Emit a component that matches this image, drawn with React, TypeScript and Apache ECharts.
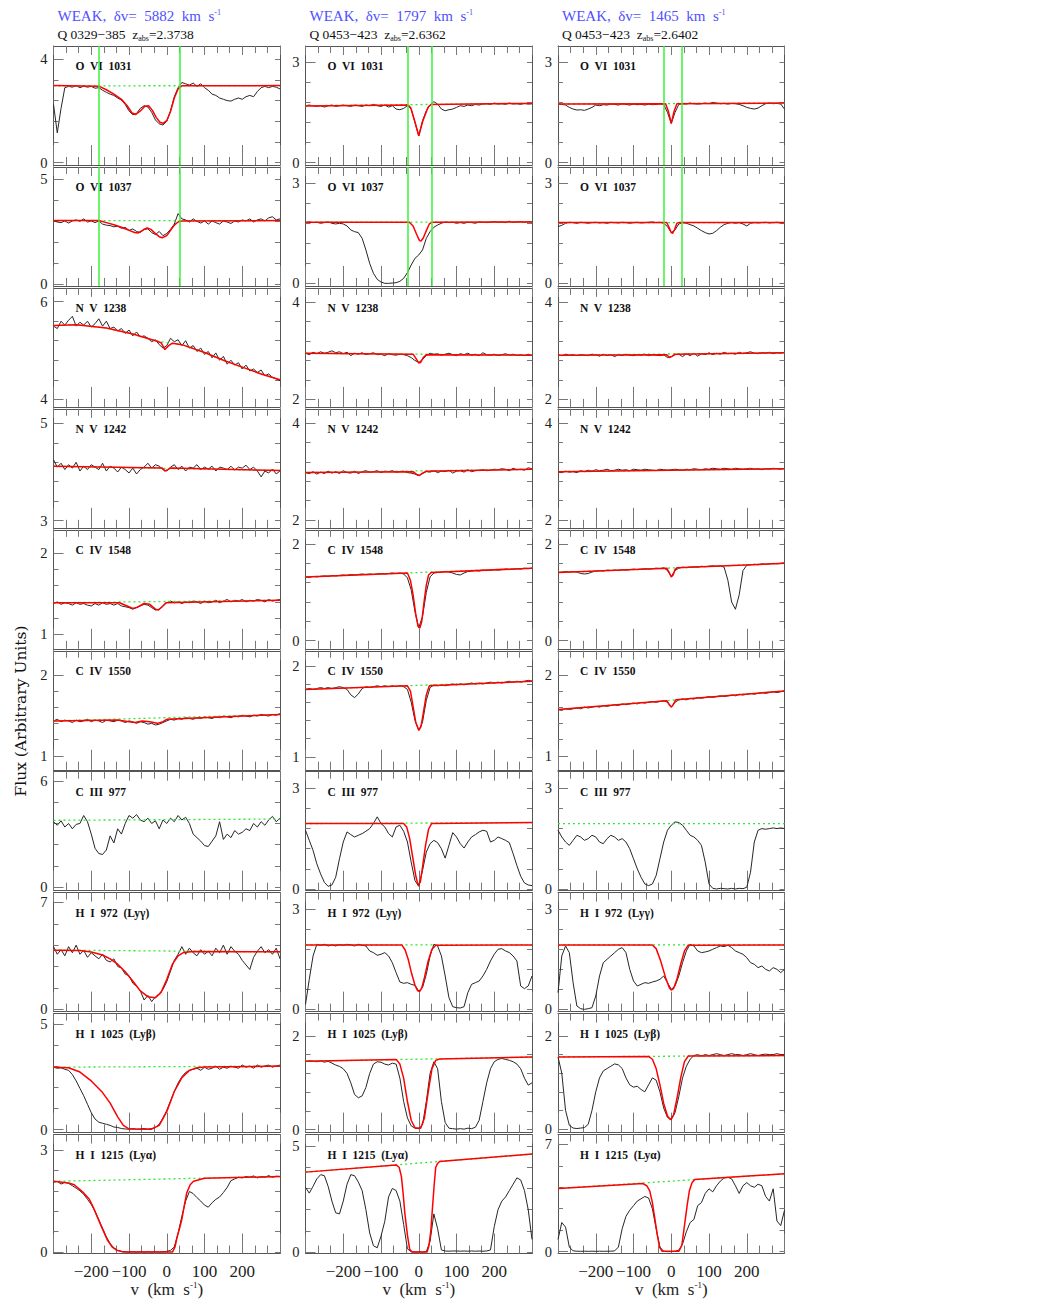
import React, { useEffect, useRef } from 'react';
import * as echarts from 'echarts';

// velocity grid (km/s) of the sampled spectra
const VEL = [-300,-290,-280,-270,-260,-250,-240,-230,-220,-210,-200,-190,-180,-170,-160,-150,-140,-130,-120,-110,-100,-90,-80,-70,-60,-50,-40,-30,-20,-10,0,10,20,30,40,50,60,70,80,90,100,110,120,130,140,150,160,170,180,190,200,210,220,230,240,250,260,270,280,290,300];

const ROW_NAMES = ['O  VI  1031','O  VI  1037','N  V  1238','N  V  1242','C  IV  1548','C  IV  1550','C  III  977','H  I  972  (Ly\u03b3)','H  I  1025  (Ly\u03b2)','H  I  1215  (Ly\u03b1)'];
const DV = ['5882','1797','1465'];
const QSO = ['Q 0329\u2212385','Q 0453\u2212423','Q 0453\u2212423'];
const ZABS = ['2.3738','2.6362','2.6402'];
const X_TICK_LABELS = [-200,-100,0,100,200];

// ---------- observed flux (black histogram) ----------
const flux_r1c1 = [2.25,1.15,2.1,2.9,2.95,2.92,2.98,2.9,2.96,2.92,
 2.95,2.88,2.9,2.8,2.72,2.65,2.6,2.5,2.42,2.25,
 2.0,1.85,1.9,2.1,2.2,2.15,1.95,1.65,1.5,1.45,
 1.6,2.0,2.55,2.9,3.1,3.05,3.0,3.08,2.95,3.05,
 2.9,2.8,2.65,2.6,2.5,2.45,2.4,2.38,2.45,2.5,
 2.45,2.55,2.6,2.55,2.75,2.9,2.95,2.9,2.95,2.92,
 2.85];
const flux_r1c2 = [1.7,1.72,1.7,1.68,1.7,1.66,1.7,1.72,1.68,1.7,
 1.72,1.7,1.68,1.72,1.7,1.68,1.72,1.7,1.74,1.7,
 1.68,1.72,1.66,1.7,1.6,1.58,1.62,1.7,1.6,1.2,
 0.8,1.25,1.55,1.72,1.82,1.75,1.6,1.55,1.58,1.6,
 1.65,1.7,1.68,1.72,1.7,1.74,1.72,1.75,1.76,1.74,
 1.78,1.75,1.76,1.74,1.78,1.75,1.76,1.74,1.77,1.75,
 1.76];
const flux_r1c3 = [1.75,1.74,1.72,1.65,1.6,1.57,1.58,1.56,1.6,1.65,
 1.72,1.7,1.73,1.72,1.75,1.74,1.72,1.76,1.74,1.72,
 1.75,1.73,1.74,1.72,1.75,1.73,1.74,1.76,1.74,1.5,
 1.17,1.5,1.74,1.76,1.75,1.78,1.76,1.75,1.76,1.78,
 1.76,1.8,1.78,1.76,1.77,1.75,1.77,1.76,1.74,1.7,
 1.65,1.62,1.6,1.63,1.7,1.76,1.78,1.76,1.77,1.75,
 1.6];
const flux_r2c1 = [3.0,2.95,2.92,3.0,2.9,3.0,3.05,2.98,3.1,2.95,
 3.0,2.92,3.0,2.85,2.8,2.78,2.72,2.75,2.65,2.7,
 2.55,2.62,2.5,2.45,2.6,2.62,2.45,2.35,2.5,2.3,
 2.4,2.6,2.85,3.35,3.1,3.05,2.95,3.1,2.98,2.9,
 3.0,2.85,3.0,2.92,2.85,3.0,2.95,2.88,3.0,2.95,
 3.05,3.0,3.1,2.95,3.05,3.1,3.0,3.15,3.2,3.05,
 3.1];
const flux_r2c2 = [1.82,1.84,1.82,1.83,1.8,1.82,1.84,1.8,1.78,1.8,
 1.78,1.72,1.6,1.55,1.52,1.35,1.0,0.6,0.3,0.12,
 0.04,0.0,0.0,0.01,0.02,0.06,0.15,0.32,0.55,0.75,
 0.85,1.0,1.35,1.55,1.68,1.75,1.8,1.84,1.82,1.83,
 1.8,1.82,1.8,1.83,1.82,1.8,1.84,1.83,1.82,1.84,
 1.85,1.83,1.84,1.82,1.86,1.83,1.84,1.85,1.83,1.85,
 1.84];
const flux_r2c3 = [1.7,1.74,1.8,1.83,1.82,1.8,1.83,1.82,1.8,1.82,
 1.83,1.81,1.82,1.8,1.83,1.82,1.81,1.83,1.82,1.8,
 1.82,1.83,1.81,1.82,1.83,1.84,1.82,1.83,1.8,1.7,
 1.52,1.6,1.78,1.82,1.8,1.76,1.72,1.65,1.58,1.52,
 1.48,1.5,1.58,1.68,1.76,1.8,1.82,1.8,1.82,1.78,
 1.72,1.8,1.82,1.81,1.82,1.83,1.81,1.82,1.83,1.82,
 1.82];
const flux_r3c1 = [5.5,5.45,5.6,5.52,5.62,5.7,5.5,5.58,5.52,5.6,
 5.48,5.55,5.65,5.5,5.6,5.45,5.48,5.4,5.45,5.35,
 5.42,5.3,5.38,5.28,5.3,5.25,5.18,5.22,5.12,5.05,
 5.1,5.25,5.18,5.22,5.1,5.2,5.05,5.1,4.98,5.05,
 4.92,4.98,4.85,4.95,4.8,4.88,4.72,4.8,4.7,4.75,
 4.62,4.7,4.58,4.62,4.55,4.6,4.48,4.52,4.45,4.42,
 4.38];
const flux_r3c2 = [2.95,2.92,2.97,2.94,2.98,2.95,2.97,3.0,2.96,2.98,
 2.94,2.97,2.9,2.95,2.93,2.96,2.92,2.94,2.96,2.92,
 2.93,2.9,2.94,2.92,2.91,2.93,2.92,2.9,2.86,2.8,
 2.76,2.82,2.9,2.95,2.93,2.94,2.91,2.93,2.95,2.92,
 2.9,2.94,2.92,2.95,2.91,2.93,2.9,2.96,2.92,2.91,
 2.93,2.9,2.92,2.94,2.91,2.93,2.9,2.92,2.9,2.93,
 2.9];
const flux_r3c3 = [2.92,2.9,2.93,2.91,2.92,2.9,2.92,2.91,2.9,2.93,
 2.92,2.89,2.93,2.9,2.92,2.88,2.92,2.9,2.93,2.91,
 2.9,2.92,2.91,2.93,2.9,2.92,2.91,2.9,2.92,2.86,
 2.88,2.92,2.93,2.88,2.94,2.9,2.95,2.89,2.94,2.92,
 2.96,2.92,2.95,2.93,2.97,2.94,2.95,2.93,2.97,2.94,
 2.96,2.98,2.95,2.94,2.96,2.95,2.97,2.94,2.96,2.95,
 2.97];
const flux_r4c1 = [4.25,4.1,4.18,4.05,4.15,4.08,4.2,4.02,4.12,4.05,
 4.15,4.1,4.05,4.18,4.02,4.12,4.08,4.0,4.1,4.05,
 3.98,4.08,3.96,4.05,4.1,4.18,4.08,4.15,4.12,4.05,
 4.02,4.1,4.15,4.05,4.12,4.02,4.1,4.08,4.15,4.05,
 4.1,4.06,4.12,4.02,4.1,4.08,4.05,4.12,4.04,4.1,
 4.08,4.14,4.05,4.1,4.02,3.9,4.02,3.98,4.06,3.96,
 4.02];
const flux_r4c2 = [2.98,2.96,3.0,2.95,2.99,2.96,3.01,2.97,3.0,2.96,
 3.02,2.98,2.97,3.01,2.96,3.0,3.02,2.99,3.0,3.02,
 2.98,3.01,3.0,3.02,2.99,3.0,3.01,2.98,2.97,2.95,
 2.92,2.96,3.0,2.99,3.02,2.98,3.01,3.0,3.03,2.97,
 3.01,3.02,2.99,3.04,3.0,3.02,3.03,3.04,3.02,3.03,
 3.05,3.04,3.06,3.05,3.02,3.07,3.04,3.05,3.03,3.08,
 3.06];
const flux_r4c3 = [2.99,2.98,3.01,2.99,3.0,2.98,3.02,3.0,3.03,3.01,
 3.04,3.02,3.03,3.05,3.02,3.03,3.05,3.03,3.04,3.02,
 3.05,3.04,3.03,3.05,3.04,3.03,3.02,3.05,3.04,3.03,
 3.04,3.05,3.04,3.03,3.05,3.04,3.06,3.05,3.04,3.06,
 3.05,3.07,3.06,3.05,3.07,3.06,3.05,3.07,3.06,3.05,
 3.06,3.07,3.05,3.06,3.04,3.06,3.05,3.07,3.06,3.05,
 3.07];
const flux_r5c1 = [1.38,1.4,1.37,1.39,1.38,1.36,1.39,1.37,1.38,1.36,
 1.35,1.38,1.36,1.39,1.37,1.38,1.36,1.38,1.35,1.34,
 1.33,1.31,1.33,1.35,1.37,1.36,1.33,1.3,1.31,1.35,
 1.39,1.41,1.39,1.4,1.38,1.4,1.39,1.41,1.4,1.38,
 1.41,1.39,1.4,1.42,1.39,1.41,1.43,1.4,1.42,1.41,
 1.43,1.4,1.42,1.41,1.43,1.42,1.4,1.43,1.41,1.42,
 1.43];
const flux_r5c2 = [1.32,1.31,1.33,1.32,1.33,1.34,1.33,1.35,1.34,1.35,
 1.36,1.35,1.37,1.36,1.37,1.38,1.37,1.38,1.37,1.38,
 1.39,1.38,1.39,1.4,1.39,1.4,1.38,1.3,1.05,0.6,
 0.27,0.5,1.0,1.32,1.4,1.41,1.42,1.43,1.42,1.4,
 1.37,1.36,1.4,1.43,1.44,1.45,1.44,1.46,1.45,1.46,
 1.47,1.46,1.47,1.48,1.47,1.48,1.49,1.48,1.5,1.49,
 1.5];
const flux_r5c3 = [1.41,1.42,1.43,1.42,1.43,1.42,1.39,1.38,1.39,1.42,
 1.44,1.45,1.44,1.46,1.45,1.46,1.45,1.47,1.46,1.47,
 1.48,1.47,1.48,1.49,1.48,1.49,1.5,1.49,1.51,1.45,
 1.33,1.45,1.5,1.52,1.51,1.52,1.53,1.52,1.54,1.53,
 1.54,1.55,1.54,1.55,1.52,1.25,0.8,0.65,0.95,1.45,
 1.56,1.57,1.58,1.57,1.59,1.58,1.59,1.6,1.59,1.6,
 1.61];
const flux_r6c1 = [1.43,1.45,1.42,1.44,1.43,1.41,1.44,1.42,1.43,1.45,
 1.42,1.44,1.43,1.41,1.44,1.43,1.42,1.44,1.43,1.41,
 1.43,1.42,1.4,1.42,1.41,1.39,1.4,1.38,1.39,1.41,
 1.43,1.45,1.44,1.46,1.45,1.47,1.46,1.45,1.47,1.46,
 1.48,1.47,1.46,1.48,1.47,1.49,1.48,1.47,1.49,1.48,
 1.5,1.49,1.48,1.5,1.49,1.51,1.5,1.49,1.51,1.5,
 1.52];
const flux_r6c2 = [1.74,1.75,1.74,1.75,1.76,1.75,1.76,1.75,1.76,1.77,
 1.76,1.74,1.68,1.65,1.69,1.75,1.77,1.76,1.77,1.78,
 1.77,1.78,1.77,1.78,1.77,1.78,1.77,1.74,1.6,1.4,
 1.29,1.38,1.62,1.76,1.79,1.78,1.79,1.78,1.79,1.8,
 1.79,1.8,1.79,1.8,1.81,1.8,1.81,1.8,1.81,1.82,
 1.81,1.82,1.81,1.82,1.83,1.82,1.83,1.82,1.83,1.84,
 1.83];
const flux_r6c3 = [1.57,1.56,1.58,1.57,1.58,1.59,1.58,1.6,1.59,1.6,
 1.61,1.6,1.62,1.61,1.62,1.63,1.62,1.64,1.63,1.64,
 1.65,1.64,1.66,1.65,1.66,1.67,1.66,1.67,1.68,1.66,
 1.6,1.66,1.69,1.7,1.69,1.71,1.7,1.72,1.71,1.72,
 1.73,1.72,1.73,1.74,1.73,1.74,1.75,1.74,1.76,1.75,
 1.76,1.77,1.76,1.77,1.78,1.77,1.78,1.79,1.78,1.79,
 1.8];
const flux_r7c1 = [3.7,3.5,3.75,3.4,3.6,3.3,3.55,3.6,4.05,3.7,
 3.0,2.2,1.9,1.85,2.1,2.9,2.5,3.3,3.0,3.6,
 4.05,3.9,4.1,3.8,3.7,3.9,3.6,3.75,3.3,3.8,
 3.6,3.9,3.7,4.05,3.8,3.95,3.6,3.0,2.8,2.6,
 2.35,2.3,2.6,2.9,3.7,2.7,3.0,2.8,3.2,3.0,
 3.1,3.3,3.2,3.6,3.4,3.7,3.5,3.8,4.0,3.7,
 3.9];
const flux_r7c2 = [1.75,1.45,1.15,0.75,0.45,0.2,0.08,0.12,0.35,0.9,
 1.4,1.7,1.62,1.55,1.6,1.65,1.72,1.8,1.95,2.15,
 1.95,1.85,1.65,1.55,1.85,1.9,1.72,1.4,0.8,0.25,
 0.08,0.55,1.1,1.35,1.45,1.38,1.2,0.92,1.3,1.68,
 1.55,1.35,1.22,1.4,1.55,1.62,1.7,1.75,1.72,1.4,
 1.45,1.55,1.5,1.45,1.38,1.05,0.7,0.38,0.18,0.12,
 0.1];
const flux_r7c3 = [1.75,1.55,1.4,1.3,1.45,1.6,1.55,1.45,1.5,1.6,
 1.55,1.4,1.35,1.5,1.6,1.55,1.45,1.5,1.4,1.2,
 0.9,0.6,0.35,0.15,0.1,0.15,0.4,0.9,1.4,1.75,
 1.9,2.0,1.98,1.9,1.75,1.6,1.55,1.45,1.3,0.8,
 0.15,0.02,0.0,0.02,0.01,0.0,0.02,0.0,0.02,0.01,
 0.05,0.5,1.4,1.75,1.8,1.78,1.8,1.82,1.8,1.82,
 1.8];
const flux_r8c1 = [4.1,3.6,3.9,3.5,4.1,3.7,4.2,3.6,3.85,3.4,
 3.7,3.5,3.3,3.6,3.2,3.1,3.3,2.8,2.7,2.3,
 2.2,1.7,1.5,1.2,0.6,0.9,0.5,0.8,1.0,1.3,
 1.8,2.5,3.2,3.6,4.1,3.6,4.0,3.7,3.5,3.9,
 3.6,3.8,3.5,4.0,3.7,4.2,3.6,4.1,3.8,3.6,
 3.2,2.9,2.6,3.4,3.8,4.1,3.7,3.9,3.6,4.0,
 3.3];
const flux_r8c2 = [0.15,0.9,1.6,1.95,1.92,1.95,1.9,1.93,1.9,1.94,
 1.92,1.95,1.93,1.9,1.95,1.92,1.9,1.75,1.7,1.62,
 1.65,1.7,1.6,1.4,1.1,0.82,0.78,0.8,0.75,0.72,
 0.55,0.65,1.05,1.6,1.95,1.9,1.6,1.0,0.35,0.08,
 0.05,0.04,0.08,0.5,0.75,0.8,0.85,1.0,1.2,1.45,
 1.65,1.8,1.82,1.75,1.7,1.6,1.45,0.7,0.62,0.7,
 1.0];
const flux_r8c3 = [0.5,1.6,1.9,1.7,0.8,0.1,0.02,0.0,0.02,0.05,
 0.4,1.0,1.4,1.5,1.6,1.7,1.8,1.85,1.7,1.2,
 0.85,0.7,0.75,0.8,0.78,0.82,0.85,0.9,1.0,0.8,
 0.6,0.7,1.0,1.4,1.75,1.95,1.9,1.75,1.7,1.72,
 1.75,1.8,1.85,1.9,1.88,1.92,1.85,1.75,1.7,1.65,
 1.55,1.4,1.35,1.25,1.3,1.2,1.15,1.25,1.2,1.1,
 1.2];
const flux_r9c1 = [2.95,2.9,2.92,2.85,2.8,2.6,2.3,1.95,1.6,1.2,
 0.8,0.5,0.35,0.3,0.25,0.2,0.12,0.1,0.05,0.03,
 0.02,0.05,0.02,0.03,0.05,0.02,0.05,0.1,0.25,0.55,
 0.9,1.35,1.8,2.2,2.5,2.7,2.8,2.85,2.9,2.8,
 2.95,2.85,2.9,3.0,2.85,2.95,2.9,3.0,2.95,2.9,
 3.05,2.95,3.0,2.9,3.05,2.95,3.0,3.05,2.95,3.0,
 3.05];
const flux_r9c2 = [1.45,1.47,1.46,1.45,1.47,1.44,1.46,1.42,1.38,1.35,
 1.3,1.2,1.0,0.75,0.68,0.72,0.9,1.2,1.4,1.45,
 1.44,1.4,1.38,1.42,1.4,1.1,0.6,0.25,0.08,0.03,
 0.02,0.1,0.6,1.2,1.45,1.3,0.6,0.15,0.03,0.02,
 0.01,0.02,0.01,0.03,0.02,0.05,0.2,0.6,1.0,1.3,
 1.45,1.5,1.52,1.5,1.48,1.45,1.4,1.3,1.1,0.95,
 1.0];
const flux_r9c3 = [1.55,1.2,0.4,0.08,0.02,0.01,0.02,0.03,0.1,0.4,
 0.8,1.1,1.25,1.3,1.35,1.4,1.38,1.3,1.1,0.95,
 0.9,0.92,0.85,0.8,0.95,1.1,1.05,0.8,0.45,0.25,
 0.2,0.35,0.7,1.1,1.35,1.5,1.58,1.6,1.57,1.6,
 1.58,1.6,1.62,1.6,1.58,1.6,1.62,1.6,1.6,1.58,
 1.6,1.62,1.6,1.58,1.6,1.61,1.6,1.6,1.62,1.6,
 1.6];
const flux_r10c1 = [2.05,2.08,2.0,2.05,2.02,1.95,1.88,1.8,1.7,1.55,
 1.4,1.2,0.95,0.7,0.45,0.25,0.12,0.05,0.02,0.01,
 0.0,0.01,0.0,0.01,0.0,0.01,0.0,0.01,0.0,0.01,
 0.02,0.05,0.15,0.55,1.05,1.5,1.78,1.72,1.6,1.5,
 1.38,1.32,1.45,1.55,1.62,1.75,1.9,2.1,2.15,2.2,
 2.18,2.22,2.2,2.24,2.18,2.22,2.2,2.25,2.2,2.23,
 2.22];
const flux_r10c2 = [3.05,2.78,3.1,3.45,3.65,3.6,3.1,2.4,1.85,1.8,
 2.4,3.2,3.65,3.6,3.3,2.9,2.0,0.9,0.3,0.2,
 0.75,1.45,2.6,3.0,2.9,2.4,1.3,0.15,0.02,0.0,
 0.01,0.0,0.02,0.5,1.8,1.1,0.1,0.05,0.04,0.05,
 0.05,0.04,0.05,0.04,0.05,0.04,0.05,0.04,0.05,0.1,
 1.2,2.0,2.4,2.6,2.9,3.2,3.5,3.4,2.9,2.0,
 0.6];
const flux_r10c3 = [0.8,1.9,1.6,0.3,0.05,0.03,0.02,0.03,0.02,0.03,
 0.02,0.03,0.02,0.03,0.03,0.05,0.3,1.5,2.3,2.7,
 3.0,3.3,3.45,3.6,3.5,2.8,1.5,0.3,0.02,0.0,
 0.0,0.02,0.1,0.5,1.3,1.9,2.1,3.0,3.2,3.8,
 4.1,3.9,4.3,4.6,4.8,4.85,4.75,4.3,3.8,4.3,
 4.5,4.3,4.2,4.4,4.3,3.6,3.3,4.1,2.0,1.7,
 2.7];

// ---------- Voigt-profile fits (red), [v, flux] ----------
const fit_r1c1 = [[-300,2.98],[-180,2.96],[-160,2.82],[-140,2.65],[-120,2.45],[-105,2.2],[-92,1.92],[-82,1.86],[-70,2.0],[-58,2.18],[-48,2.2],[-38,2.02],[-28,1.75],[-18,1.56],[-10,1.52],[0,1.62],[10,1.98],[20,2.5],[30,2.85],[40,2.97],[300,2.98]];
const fit_r1c2 = [[-300,1.69],[-28,1.72],[-21,1.63],[-11,1.25],[0,0.8],[11,1.25],[25,1.66],[33,1.74],[300,1.77]];
const fit_r1c3 = [[-300,1.75],[-15,1.76],[-8,1.55],[0,1.17],[8,1.55],[15,1.76],[300,1.78]];
const fit_r2c1 = [[-300,3.02],[-180,3.02],[-160,2.92],[-140,2.82],[-120,2.7],[-100,2.55],[-85,2.45],[-75,2.43],[-62,2.58],[-52,2.67],[-42,2.6],[-30,2.4],[-20,2.25],[-12,2.2],[0,2.3],[10,2.55],[20,2.8],[30,2.95],[40,3.0],[300,3.02]];
const fit_r2c2 = [[-300,1.83],[-25,1.83],[-15,1.72],[-6,1.48],[2,1.28],[6,1.27],[12,1.36],[20,1.58],[28,1.78],[35,1.83],[300,1.84]];
const fit_r2c3 = [[-300,1.82],[-12,1.82],[-6,1.68],[0,1.52],[4,1.5],[9,1.62],[15,1.8],[20,1.82],[300,1.82]];
const fit_r3c1 = [[-300,5.51],[-240,5.53],[-160,5.46],[-90,5.34],[-30,5.2],[-15,5.16],[-5,5.02],[5,5.1],[15,5.15],[40,5.12],[100,4.96],[150,4.8],[200,4.66],[250,4.52],[300,4.4]];
const fit_r3c2 = [[-300,2.95],[-15,2.93],[-8,2.85],[0,2.75],[5,2.76],[12,2.86],[20,2.92],[300,2.91]];
const fit_r3c3 = [[-300,2.91],[-12,2.92],[-5,2.86],[3,2.89],[10,2.93],[300,2.96]];
const fit_r4c1 = [[-300,4.12],[-12,4.08],[-5,4.02],[3,4.05],[10,4.08],[300,4.03]];
const fit_r4c2 = [[-300,2.98],[-15,3.0],[-5,2.94],[2,2.92],[10,2.97],[20,3.01],[300,3.05]];
const fit_r4c3 = [[-300,3.0],[300,3.06]];
const fit_r5c1 = [[-300,1.39],[-125,1.39],[-105,1.35],[-90,1.32],[-80,1.33],[-60,1.38],[-45,1.37],[-30,1.31],[-22,1.3],[-12,1.34],[-2,1.39],[300,1.42]];
const fit_r5c2 = [[-300,1.32],[-30,1.4],[-22,1.25],[-15,0.95],[-8,0.55],[-2,0.3],[3,0.26],[8,0.4],[14,0.8],[20,1.15],[26,1.36],[33,1.41],[300,1.5]];
const fit_r5c3 = [[-300,1.41],[-12,1.5],[-6,1.42],[0,1.32],[5,1.36],[10,1.47],[15,1.51],[300,1.6]];
const fit_r6c1 = [[-300,1.43],[-130,1.44],[-100,1.42],[-85,1.41],[-65,1.43],[-45,1.42],[-25,1.4],[-10,1.42],[0,1.45],[300,1.51]];
const fit_r6c2 = [[-300,1.74],[-30,1.78],[-22,1.72],[-15,1.55],[-8,1.38],[0,1.29],[6,1.33],[12,1.48],[20,1.68],[28,1.78],[300,1.83]];
const fit_r6c3 = [[-300,1.57],[-12,1.68],[-5,1.63],[0,1.6],[5,1.63],[12,1.69],[300,1.8]];
const fit_r7c1: number[][] = [];
const fit_r7c2 = [[-300,1.95],[-40,1.95],[-32,1.85],[-24,1.5],[-16,0.95],[-8,0.4],[-2,0.12],[4,0.2],[10,0.65],[18,1.3],[26,1.78],[34,1.95],[300,1.98]];
const fit_r7c3: number[][] = [];
const fit_r8c1 = [[-300,3.87],[-230,3.85],[-200,3.75],[-170,3.55],[-150,3.3],[-130,2.95],[-110,2.45],[-90,1.85],[-70,1.2],[-50,0.82],[-30,0.75],[-15,1.1],[0,1.95],[15,2.95],[30,3.5],[45,3.72],[70,3.78],[300,3.76]];
const fit_r8c2 = [[-300,1.93],[-45,1.93],[-36,1.78],[-28,1.5],[-19,1.08],[-10,0.72],[-3,0.56],[2,0.53],[8,0.64],[15,0.95],[25,1.45],[35,1.8],[45,1.92],[300,1.93]];
const fit_r8c3 = [[-300,1.93],[-50,1.93],[-40,1.82],[-28,1.45],[-15,0.95],[-5,0.65],[0,0.58],[6,0.62],[15,0.9],[25,1.35],[35,1.75],[45,1.92],[300,1.93]];
const fit_r9c1 = [[-300,2.95],[-260,2.92],[-230,2.72],[-200,2.3],[-170,1.75],[-150,1.25],[-130,0.6],[-115,0.2],[-100,0.03],[-40,0.02],[-20,0.2],[0,0.85],[20,1.8],[40,2.45],[60,2.8],[80,2.92],[100,2.96],[300,3.0]];
const fit_r9c2 = [[-300,1.46],[-60,1.5],[-50,1.4],[-40,1.1],[-30,0.6],[-20,0.2],[-10,0.04],[5,0.03],[15,0.25],[25,0.8],[35,1.3],[45,1.48],[55,1.51],[300,1.55]];
const fit_r9c3 = [[-300,1.55],[-60,1.56],[-50,1.5],[-40,1.3],[-30,0.95],[-20,0.55],[-10,0.28],[-2,0.2],[6,0.3],[15,0.65],[25,1.1],[35,1.45],[45,1.57],[300,1.58]];
const fit_r10c1 = [[-300,2.08],[-260,2.03],[-245,1.98],[-220,1.74],[-205,1.55],[-194,1.3],[-175,0.8],[-158,0.37],[-145,0.15],[-132,0.05],[-115,0.0],[15,0.0],[22,0.15],[27,0.42],[34,0.7],[40,0.96],[47,1.4],[53,1.74],[62,1.98],[71,2.08],[100,2.17],[300,2.22]];
const fit_r10c2 = [[-300,3.77],[-60,4.11],[-52,4.0],[-46,3.57],[-41,2.7],[-37,1.85],[-30,0.8],[-24,0.13],[-18,0.0],[22,0.0],[27,0.3],[32,1.0],[36,2.0],[41,3.2],[45,4.0],[50,4.18],[55,4.27],[300,4.62]];
const fit_r10c3 = [[-300,4.12],[-75,4.44],[-65,4.3],[-57,3.97],[-50,3.2],[-44,2.24],[-37,1.1],[-31,0.3],[-24,0.02],[20,0.02],[28,0.4],[35,1.7],[42,3.0],[48,3.97],[55,4.5],[62,4.71],[300,5.08]];

// ---------- continua (green dotted), [v, flux] ----------
const cont_r1 = [[[-300,2.97],[300,2.98]], [[-300,1.7],[300,1.77]], [[-300,1.75],[300,1.78]]];
const cont_r2 = [[[-300,3.02],[300,3.02]], [[-300,1.83],[300,1.84]], [[-300,1.82],[300,1.82]]];
const cont_r3 = [[[-300,5.51],[-240,5.53],[-160,5.46],[-90,5.34],[-30,5.2],[0,5.16],[40,5.12],[100,4.96],[150,4.8],[200,4.66],[250,4.52],[300,4.4]], [[-300,2.95],[300,2.91]], [[-300,2.91],[300,2.96]]];
const cont_r4 = [[[-300,4.12],[300,4.03]], [[-300,2.98],[300,3.05]], [[-300,3.0],[300,3.06]]];
const cont_r5 = [[[-300,1.39],[300,1.42]], [[-300,1.32],[300,1.5]], [[-300,1.41],[300,1.6]]];
const cont_r6 = [[[-300,1.43],[300,1.51]], [[-300,1.74],[300,1.83]], [[-300,1.57],[300,1.8]]];
const cont_r7 = [[[-300,3.78],[300,3.85]], [[-300,1.95],[300,1.98]], [[-300,1.95],[300,1.95]]];
const cont_r8 = [[[-300,3.87],[300,3.76]], [[-300,1.93],[300,1.93]], [[-300,1.93],[300,1.93]]];
const cont_r9 = [[[-300,2.95],[300,3.0]], [[-300,1.46],[300,1.55]], [[-300,1.55],[300,1.58]]];
const cont_r10 = [[[-300,2.08],[300,2.22]], [[-300,3.77],[300,4.62]], [[-300,4.12],[300,5.08]]];

// velocity limits of the O VI integration window (green verticals) per column
const WINDOW = [[-180, 34], [-29, 35], [-20, 28]];

// y-axis: [lower labelled tick, upper labelled tick, px of lower tick above frame bottom, px of upper tick below frame top]
const YAX = [
  [[0,4,2.5,13.3],[0,3,2.5,16.3],[0,3,2.5,16.3]],
  [[0,5,2,12],[0,3,2.6,16.3],[0,3,2.6,16.3]],
  [[4,6,7.6,13.8],[2,4,7.6,14.4],[2,4,7.6,14.4]],
  [[3,5,7.2,14.5],[2,4,7.9,14.5],[2,4,7.9,14.5]],
  [[1,2,14.5,23.5],[0,2,8.1,14.2],[0,2,8.1,14.2]],
  [[1,2,14,24],[1,2,13,15],[1,2,14,24]],
  [[0,6,3.5,9.3],[0,3,1.7,16.6],[0,3,1.7,16.6]],
  [[0,7,2.5,9.8],[0,3,2.3,16.6],[0,3,2.3,16.6]],
  [[0,5,3,10.2],[0,2,3,22.4],[0,2,3.6,22.4]],
  [[0,3,1.5,15.5],[0,5,1.5,11.5],[0,7,1.9,9.8]],
];

const FLUX = [
  [flux_r1c1, flux_r1c2, flux_r1c3],
  [flux_r2c1, flux_r2c2, flux_r2c3],
  [flux_r3c1, flux_r3c2, flux_r3c3],
  [flux_r4c1, flux_r4c2, flux_r4c3],
  [flux_r5c1, flux_r5c2, flux_r5c3],
  [flux_r6c1, flux_r6c2, flux_r6c3],
  [flux_r7c1, flux_r7c2, flux_r7c3],
  [flux_r8c1, flux_r8c2, flux_r8c3],
  [flux_r9c1, flux_r9c2, flux_r9c3],
  [flux_r10c1, flux_r10c2, flux_r10c3],
];
const FITS = [
  [fit_r1c1, fit_r1c2, fit_r1c3],
  [fit_r2c1, fit_r2c2, fit_r2c3],
  [fit_r3c1, fit_r3c2, fit_r3c3],
  [fit_r4c1, fit_r4c2, fit_r4c3],
  [fit_r5c1, fit_r5c2, fit_r5c3],
  [fit_r6c1, fit_r6c2, fit_r6c3],
  [fit_r7c1, fit_r7c2, fit_r7c3],
  [fit_r8c1, fit_r8c2, fit_r8c3],
  [fit_r9c1, fit_r9c2, fit_r9c3],
  [fit_r10c1, fit_r10c2, fit_r10c3],
];
const CONTS = [cont_r1, cont_r2, cont_r3, cont_r4, cont_r5, cont_r6, cont_r7, cont_r8, cont_r9, cont_r10];

// ---------- layout / style ----------
const COL_LEFT = [53.5, 305.5, 558];
const COL_W = 226.5;
const ROW_TOP0 = 46;
const ROW_STEP = 120.95;
const PANEL_H = 119;
const SERIF = "'Liberation Serif', 'Times New Roman', serif";
const AXIS_C = '#555';
const TICK_C = '#777';

export default function App() {
  const ref = useRef<HTMLDivElement>(null);
  useEffect(() => {
    if (!ref.current) return;
    const chart = echarts.init(ref.current, null, { renderer: 'svg' });
    const grid: any[] = [];
    const xAxis: any[] = [];
    const yAxis: any[] = [];
    const series: any[] = [];
    const graphic: any[] = [];

    for (let r = 0; r < 10; r++) {
      for (let c = 0; c < 3; c++) {
        const idx = r * 3 + c;
        const top = ROW_TOP0 + r * ROW_STEP;
        grid.push({ left: COL_LEFT[c], top, width: COL_W, height: PANEL_H });
        const [lo, hi, offLo, offHi] = YAX[r][c];
        const s = (PANEL_H - offLo - offHi) / (hi - lo);
        const ymin = lo - offLo / s;
        const ymax = hi + offHi / s;
        const step = (hi - lo) / 5;
        const allTicks = [0, 1, 2, 3, 4, 5].map((k) => lo + k * step);
        const midTicks = [1, 2, 3, 4].map((k) => lo + k * step);
        const isLast = r === 9;

        xAxis.push({
          type: 'value', gridIndex: idx, position: 'bottom', min: -300, max: 300, interval: 100,
          axisLine: { show: true, onZero: false, lineStyle: { color: AXIS_C, width: 1 } },
          axisTick: { show: true, inside: true, length: 20, lineStyle: { color: TICK_C, width: 1 } },
          minorTick: { show: true, splitNumber: 3, length: 8, lineStyle: { color: TICK_C, width: 1 } },
          splitLine: { show: false }, minorSplitLine: { show: false },
          axisLabel: {
            show: isLast, margin: 9, fontFamily: SERIF, fontSize: 17, color: '#222',
            customValues: X_TICK_LABELS,
            formatter: (v: number) => (v < 0 ? '\u2212' + Math.abs(v) : String(v)),
          },
          name: isLast ? 'v  (km  s{sup|-1})' : '',
          nameLocation: 'middle', nameGap: 27,
          nameTextStyle: {
            fontFamily: SERIF, fontSize: 17, color: '#222',
            rich: { sup: { fontFamily: SERIF, fontSize: 9, color: '#222', verticalAlign: 'top', padding: [0, 0, 7, 0] } },
          },
        });
        xAxis.push({
          type: 'value', gridIndex: idx, position: 'top', min: -300, max: 300, interval: 100,
          axisLine: { show: true, onZero: false, lineStyle: { color: AXIS_C, width: 1 } },
          axisTick: { show: true, inside: true, length: 9, lineStyle: { color: TICK_C, width: 1 } },
          minorTick: { show: true, splitNumber: 3, length: 7, lineStyle: { color: TICK_C, width: 1 } },
          splitLine: { show: false }, minorSplitLine: { show: false },
          axisLabel: { show: false },
        });
        // left: labelled major ticks
        yAxis.push({
          type: 'value', gridIndex: idx, position: 'left', min: ymin, max: ymax,
          axisLine: { show: true, onZero: false, lineStyle: { color: AXIS_C, width: 1 } },
          axisTick: { show: true, inside: true, length: 10, customValues: [lo, hi], lineStyle: { color: TICK_C } },
          splitLine: { show: false },
          axisLabel: {
            show: true, customValues: [lo, hi], margin: 6, fontFamily: SERIF, fontSize: 14.5, lineHeight: 12, color: '#222',
            formatter: (v: number) => String(Math.round(v)),
          },
        });
        // left: minor ticks
        yAxis.push({
          type: 'value', gridIndex: idx, position: 'left', min: ymin, max: ymax,
          axisLine: { show: false, onZero: false },
          axisTick: { show: true, inside: true, length: 5, customValues: midTicks, lineStyle: { color: TICK_C } },
          splitLine: { show: false }, axisLabel: { show: false },
        });
        // right
        yAxis.push({
          type: 'value', gridIndex: idx, position: 'right', min: ymin, max: ymax,
          axisLine: { show: true, onZero: false, lineStyle: { color: AXIS_C, width: 1 } },
          axisTick: { show: true, inside: true, length: 5, customValues: allTicks, lineStyle: { color: TICK_C } },
          splitLine: { show: false }, axisLabel: { show: false },
        });

        const xi = idx * 2;
        const yi = idx * 3;
        const flux = FLUX[r][c];
        const blackSeries: any = {
          type: 'line', xAxisIndex: xi, yAxisIndex: yi, silent: true, symbol: 'none', showSymbol: false,
          data: VEL.map((v, i) => [v, flux[i]]),
          lineStyle: { color: '#262626', width: 1 }, z: 2, clip: true,
        };
        if (r < 2) {
          blackSeries.markLine = {
            silent: true, symbol: ['none', 'none'], label: { show: false },
            lineStyle: { color: '#3cf03c', width: 1.5, type: 'solid' },
            data: [{ xAxis: WINDOW[c][0] }, { xAxis: WINDOW[c][1] }],
          };
        }
        series.push(blackSeries);
        series.push({
          type: 'line', xAxisIndex: xi, yAxisIndex: yi, silent: true, symbol: 'none', showSymbol: false,
          data: CONTS[r][c], lineStyle: { color: '#2ee82e', width: 1.3, type: [2, 3] }, z: 3,
        });
        if (FITS[r][c].length) {
          series.push({
            type: 'line', xAxisIndex: xi, yAxisIndex: yi, silent: true, symbol: 'none', showSymbol: false,
            data: FITS[r][c], lineStyle: { color: '#ff0000', width: 1.5 }, z: 4, clip: true,
          });
        }

        graphic.push({
          type: 'text', x: COL_LEFT[c] + 22, y: top + 20, silent: true,
          style: { text: ROW_NAMES[r], fill: '#111', fontFamily: SERIF, fontWeight: 'bold', fontSize: 11.5, verticalAlign: 'middle', align: 'left' },
        });
      }
    }

    for (let c = 0; c < 3; c++) {
      graphic.push({
        type: 'text', x: COL_LEFT[c] + 4, y: 16, silent: true,
        style: {
          text: 'WEAK,  \u03b4v=  ' + DV[c] + '  km  s{sup|-1}', fill: '#5050ff', fontFamily: SERIF, fontSize: 15,
          verticalAlign: 'middle', align: 'left',
          rich: { sup: { fontFamily: SERIF, fontSize: 8, fill: '#5050ff', verticalAlign: 'top', padding: [0, 0, 7, 0] } },
        },
      });
      graphic.push({
        type: 'text', x: COL_LEFT[c] + 4, y: 34, silent: true,
        style: {
          text: QSO[c] + '  z{sub|abs}=' + ZABS[c], fill: '#111', fontFamily: SERIF, fontSize: 13.5,
          verticalAlign: 'middle', align: 'left',
          rich: { sub: { fontFamily: SERIF, fontSize: 8, fill: '#111', verticalAlign: 'bottom', padding: [8, 0, 0, 0] } },
        },
      });
    }
    graphic.push({
      type: 'text', x: 21, y: 711, rotation: Math.PI / 2, silent: true,
      style: { text: 'Flux (Arbitrary Units)', fill: '#111', fontFamily: "'DejaVu Serif', serif", fontSize: 15.5, align: 'center', verticalAlign: 'middle' },
    });

    chart.setOption({
      animation: false,
      backgroundColor: '#ffffff',
      grid, xAxis, yAxis, series, graphic,
    });
    return () => chart.dispose();
  }, []);
  return <div ref={ref} style={{ position: 'absolute', left: 0, top: 0, width: 1063, height: 1315, background: '#fff' }} />;
}
